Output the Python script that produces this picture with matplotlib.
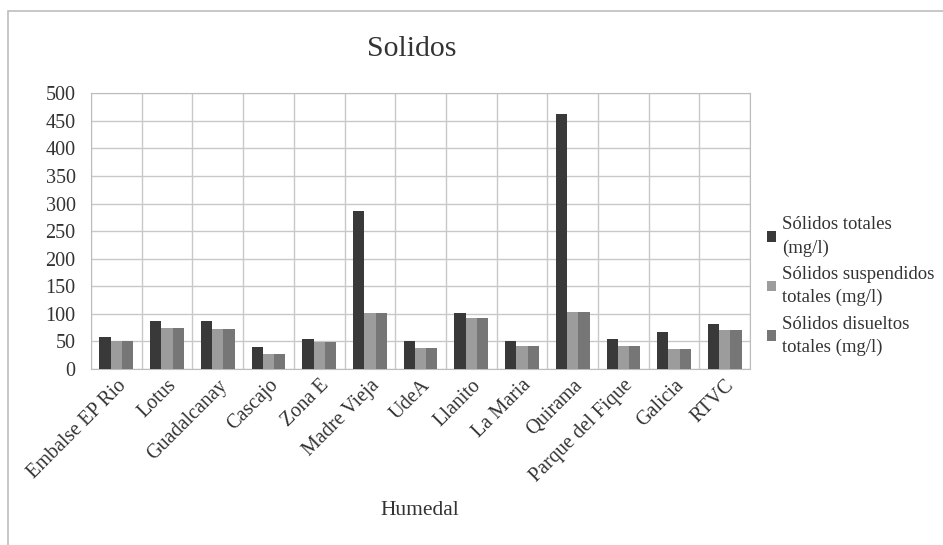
import matplotlib

matplotlib.use("Agg")
import matplotlib.pyplot as plt
import numpy as np
from matplotlib.patches import Rectangle
from matplotlib.transforms import ScaledTranslation

# Sólidos por humedal (mg/l)
humedales = [
    "Embalse EP Rio", "Lotus", "Guadalcanay", "Cascajo", "Zona E",
    "Madre Vieja", "UdeA", "Llanito", "La Maria", "Quirama",
    "Parque del Fique", "Galicia", "RTVC",
]
solidos_totales = [58, 87, 87, 39, 54, 286, 51, 102, 50, 462, 54, 67, 82]
solidos_suspendidos = [51, 75, 73, 28, 49, 102, 38, 93, 42, 104, 41, 37, 71]
solidos_disueltos = [51, 75, 73, 28, 49, 102, 38, 93, 42, 104, 41, 37, 71]
series_labels = [
    "Sólidos totales\n(mg/l)",
    "Sólidos suspendidos\ntotales (mg/l)",
    "Sólidos disueltos\ntotales (mg/l)",
]
yticks = list(range(0, 501, 50))

plt.rcParams["font.family"] = ["Liberation Serif", "DejaVu Serif"]

fig = plt.figure(figsize=(9.43, 5.45), dpi=100)
# chart frame, cut off at the right and bottom edges
fig.patches.append(Rectangle((0.008, -0.05), 1.05, 1.03, transform=fig.transFigure,
                             fill=False, edgecolor="#bdbdbd", linewidth=1.2))
ax = fig.add_axes([0.0965, 0.323, 0.699, 0.506])

x = np.arange(len(humedales))
w = 0.222
colors = ["#393939", "#9c9c9c", "#767676"]
for i, (vals, col, lab) in enumerate(zip(
        [solidos_totales, solidos_suspendidos, solidos_disueltos], colors, series_labels)):
    ax.bar(x + (i - 1) * w, vals, width=w, color=col, label=lab, zorder=3)

ax.set_xlim(-0.5, len(humedales) - 0.5)
ax.set_ylim(0, 500)
ax.set_yticks(yticks)
ax.set_xticks(x)
ax.set_xticklabels(humedales, rotation=45, ha="right", rotation_mode="anchor",
                   fontsize=14.5, color="#333333")
shift = ScaledTranslation(-8 / 100, -4 / 100, fig.dpi_scale_trans)
for lbl in ax.get_xticklabels():
    lbl.set_transform(lbl.get_transform() + shift)
ax.tick_params(axis="y", labelsize=14.5, colors="#333333", length=0, pad=11)
ax.tick_params(axis="x", length=0, pad=5)

# vertical lines between categories + horizontal grid
ax.set_xticks(np.arange(-0.5, len(humedales), 1), minor=True)
ax.grid(True, which="minor", axis="x", color="#c8c8c8", linewidth=1.0, zorder=0)
ax.grid(True, which="major", axis="y", color="#c8c8c8", linewidth=1.0, zorder=0)
ax.tick_params(which="minor", length=0)
for s in ax.spines.values():
    s.set_color("#bdbdbd")

fig.text(0.437, 0.910, "Solidos", ha="center", va="center", fontsize=21.5, color="#333333")
fig.text(0.445, 0.064, "Humedal", ha="center", va="center", fontsize=15.5, color="#333333")

leg = ax.legend(loc="center left", bbox_to_anchor=(1.0, 0.30), frameon=False,
                fontsize=13.5, handlelength=0.5, handleheight=0.5, handletextpad=0.3,
                labelspacing=0.5, labelcolor="#333333")
for t in leg.get_texts():
    t.set_linespacing(1.45)

fig.savefig("out.png", dpi=100)
